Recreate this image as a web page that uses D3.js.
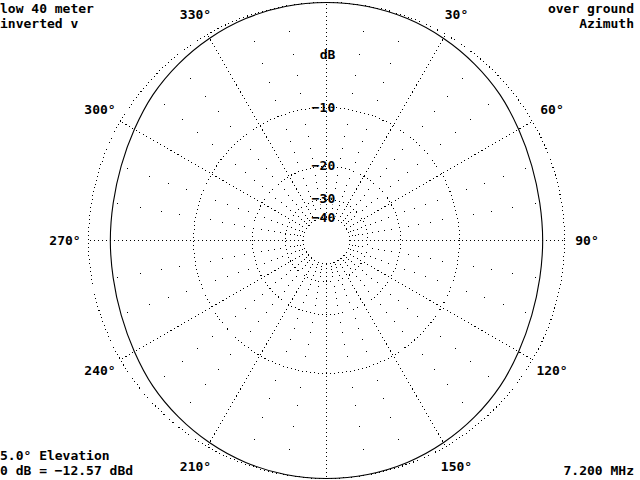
<!DOCTYPE html>
<html>
<head>
<meta charset="utf-8">
<script src="https://cdn.jsdelivr.net/npm/d3@7"></script>
<style>
  html, body { margin: 0; padding: 0; background: #fff; }
  svg { display: block; }
  text { font-family: "DejaVu Sans Mono", "Liberation Mono", monospace; font-size: 13px; font-weight: bold; fill: #000; }
</style>
</head>
<body>
<svg id="chart" width="640" height="480"></svg>
<script>
// ---- data ----
const azimuthDeg = [0,10,20,30,40,50,60,70,80,90,100,110,120,130,140,150,160,170,
                    180,190,200,210,220,230,240,250,260,270,280,290,300,310,320,330,340,350];
const gainDb = [0,-0.03,-0.13,-0.32,-0.56,-0.84,-1.20,-1.47,-1.62,-1.65,-1.62,-1.47,-1.20,-0.84,-0.56,-0.32,-0.13,-0.03,
                0,-0.03,-0.13,-0.32,-0.56,-0.84,-1.20,-1.47,-1.62,-1.65,-1.62,-1.47,-1.20,-0.84,-0.56,-0.32,-0.13,-0.03];
const ringDb = [0, -10, -20, -30, -40];
const ringLabels = ["−10", "−20", "−30", "−40"];
const angleTicks = [0, 30, 60, 90, 120, 150, 180, 210, 240, 270, 300, 330];
const angleLabels = ["", "30°", "60°", "90°", "120°", "150°", "", "210°", "240°", "270°", "300°", "330°"];
const titleLeft = ["low 40 meter", "inverted v"];
const titleRight = ["over ground", "Azimuth"];
const footLeft = ["5.0° Elevation", "0 dB = −12.57 dBd"];
const footRight = ["7.200 MHz"];

// ---- layout ----
const cx = 326, cy = 240, R = 238;
const svg = d3.select("#chart");

// ARRL log scale: each 2 dB -> factor 0.89
const logT = db => Math.pow(0.89, -db / 2);
const rLin = d3.scaleLinear().domain([0, 1]).range([0, R]);
const r = db => rLin(logT(db));
const aScale = d3.scaleLinear().domain([0, 360]).range([0, 2 * Math.PI]);

const g = svg.append("g").attr("transform", `translate(${cx},${cy})`);
const gc = svg.append("g").attr("transform", `translate(${cx + 0.5},${cy + 0.5})`);

// rings
gc.selectAll("circle.ring").data(ringDb).join("circle")
  .attr("class", "ring")
  .attr("r", d => r(d))
  .attr("fill", "none").attr("stroke", "#000").attr("stroke-width", 1)
  .attr("stroke-dasharray", "1,3")
  .attr("shape-rendering", "crispEdges");

// major radials
const rIn = r(-40);
gc.selectAll("line.rad").data(angleTicks).join("line")
  .attr("class", "rad")
  .attr("x1", d => rIn * Math.sin(aScale(d)))
  .attr("y1", d => -rIn * Math.cos(aScale(d)))
  .attr("x2", d => R * Math.sin(aScale(d)))
  .attr("y2", d => -R * Math.cos(aScale(d)))
  .attr("stroke", "#000").attr("stroke-width", 1)
  .attr("stroke-dasharray", "1,3")
  .attr("shape-rendering", "crispEdges");

// minor dots every 10 deg, every 2 dB
const minorAng = d3.range(0, 360, 10).filter(a => a % 30 !== 0);
const minorDb = d3.range(-2, -40, -2).filter(d => d % 10 !== 0);
const dots = [];
minorAng.forEach(a => minorDb.forEach(d => dots.push([a, d])));
g.selectAll("rect.dot").data(dots).join("rect")
  .attr("class", "dot")
  .attr("x", d => Math.round(r(d[1]) * Math.sin(aScale(d[0]))))
  .attr("y", d => Math.round(-r(d[1]) * Math.cos(aScale(d[0]))))
  .attr("width", 1).attr("height", 1).attr("fill", "#000")
  .attr("shape-rendering", "crispEdges");

// pattern
const line = d3.lineRadial()
  .angle((d, i) => aScale(azimuthDeg[i]))
  .radius(d => r(d))
  .curve(d3.curveCatmullRomClosed.alpha(0.5));
gc.append("path").datum(gainDb)
  .attr("d", line)
  .attr("fill", "none").attr("stroke", "#000").attr("stroke-width", 1.1);

// ring labels
const rl = g.selectAll("g.rl").data(ringDb.slice(1)).join("g").attr("class", "rl")
  .attr("transform", d => `translate(-2.5,${-r(d)})`);
rl.append("rect").attr("x", -12).attr("y", -6).attr("width", 24).attr("height", 12).attr("fill", "#fff");
rl.append("text").attr("text-anchor", "middle").attr("dy", "0.36em")
  .text((d, i) => ringLabels[i]);

// dB label
const dbl = g.append("g").attr("transform", `translate(1.5,${-186})`);
dbl.append("rect").attr("x", -9).attr("y", -6).attr("width", 18).attr("height", 12).attr("fill", "#fff");
dbl.append("text").attr("text-anchor", "middle").attr("dy", "0.36em").text("dB");

// angle labels
const rLab = 261;
g.selectAll("text.al").data(angleTicks).join("text")
  .attr("class", "al")
  .attr("text-anchor", "middle")
  .attr("dy", "0.36em")
  .attr("x", d => rLab * Math.sin(aScale(d)))
  .attr("y", d => -rLab * Math.cos(aScale(d)))
  .text((d, i) => angleLabels[i]);

// corner texts
svg.selectAll("text.tl").data(titleLeft).join("text").attr("class", "tl")
  .attr("x", 0).attr("y", (d, i) => 13 + i * 15).text(d => d);
svg.selectAll("text.tr").data(titleRight).join("text").attr("class", "tr")
  .attr("x", 634).attr("y", (d, i) => 13 + i * 15).attr("text-anchor", "end").text(d => d);
svg.selectAll("text.bl").data(footLeft).join("text").attr("class", "bl")
  .attr("x", 0).attr("y", (d, i) => 460 + i * 15).text(d => d);
svg.selectAll("text.br").data(footRight).join("text").attr("class", "br")
  .attr("x", 634).attr("y", 475).attr("text-anchor", "end").text(d => d);
</script>
</body>
</html>
